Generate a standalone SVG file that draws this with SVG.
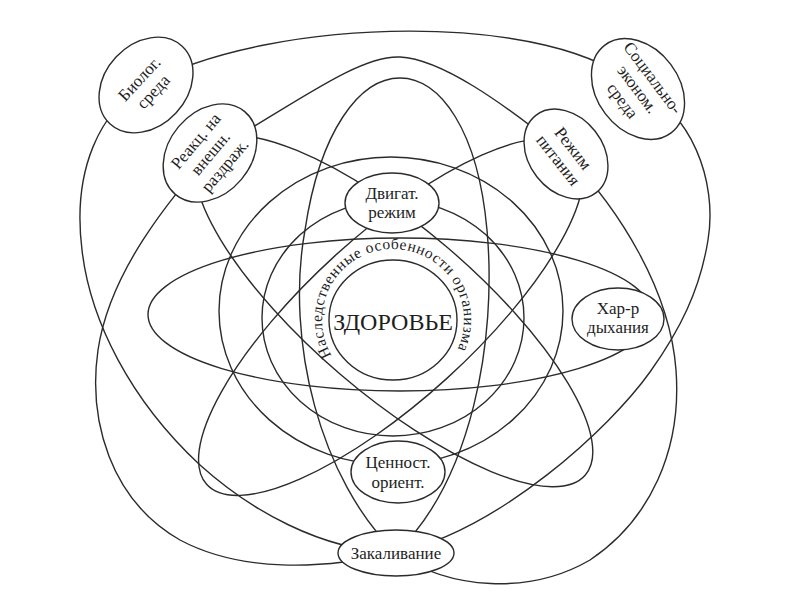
<svg xmlns="http://www.w3.org/2000/svg" width="800" height="600" viewBox="0 0 800 600" font-family="Liberation Serif, Tinos, DejaVu Serif, serif">
<defs>
<style>
.ln{fill:none;stroke:#2b2b2b;stroke-width:1.4}
.nd{fill:#fff;stroke:#2b2b2b;stroke-width:1.4}
.t{font-family:'Liberation Serif',Tinos,'DejaVu Serif',serif;font-size:17px;fill:#1e1e1e;text-anchor:middle}
.big{font-size:24px}
.ring{font-family:'Liberation Serif',Tinos,'DejaVu Serif',serif;font-size:15.5px;fill:#1e1e1e;letter-spacing:0.6px}
</style>
<path id="ringPath" d="M331.5,355.5 A71,71 0 1 1 454.5,355.5"/>
</defs>
<rect width="800" height="600" fill="#fff"/>
<g id="connectors">
<path class="ln" d="M146,85 C270,15 560,10 638,89 C690,110 718,180 708,240 C700,290 680,330 650,372 C610,428 500,530 396,553 C320,550 250,510 200,465 C130,400 90,320 82,250 C72,170 100,110 146,85 Z"/>
<path class="ln" d="M210,153 C300,100 360,55 400,57 C440,59 500,100 566,154 C620,210 670,290 676,370 C682,450 650,520 590,560 C530,595 450,590 396,553 C320,570 240,572 180,540 C110,500 88,420 98,350 C110,270 170,200 210,153 Z"/>
<path class="ln" d="M396,553 C320,480 285,340 305,230 C320,130 360,78 400,78 C440,78 478,130 487,230 C497,340 472,480 396,553 Z"/>
<ellipse class="ln" cx="400" cy="314.5" rx="252" ry="76.5"/>
<ellipse class="ln" cx="0" cy="0" rx="252" ry="83" transform="translate(394,311) rotate(40.6)"/>
<ellipse class="ln" cx="0" cy="0" rx="249" ry="83" transform="translate(391,317) rotate(-42.3)"/>
<ellipse class="ln" cx="393" cy="318" rx="131" ry="118"/>
<ellipse class="ln" cx="391" cy="311" rx="172" ry="154"/>
</g>
<g id="node-zdorovie">
<ellipse class="nd" cx="393" cy="320" rx="64" ry="60"/>
<text class="t big" x="393" y="330" font-family="Liberation Serif, serif">ЗДОРОВЬЕ</text>
<text class="ring" font-family="Liberation Serif, serif"><textPath href="#ringPath">Наследственные особенности организма</textPath></text>
</g>
<g id="node-biolog" transform="translate(146,85) rotate(-47)" font-family="Liberation Serif, serif">
<ellipse class="nd" rx="53" ry="41"/>
<text class="t" y="-3.5">Биолог.</text>
<text class="t" y="15.5">среда</text>
</g>
<g id="node-reakc" transform="translate(210,153) rotate(-50)" font-family="Liberation Serif, serif">
<ellipse class="nd" rx="54" ry="41"/>
<text class="t" y="-13">Реакц. на</text>
<text class="t" y="6">внешн.</text>
<text class="t" y="25">раздраж.</text>
</g>
<g id="node-social" transform="translate(638,89) rotate(53)" font-family="Liberation Serif, serif">
<ellipse class="nd" rx="55" ry="41"/>
<text class="t" y="-13">Социально-</text>
<text class="t" y="6">эконом.</text>
<text class="t" y="25">среда</text>
</g>
<g id="node-pitanie" transform="translate(566,154) rotate(52)" font-family="Liberation Serif, serif">
<ellipse class="nd" rx="49" ry="37"/>
<text class="t" y="-3.5">Режим</text>
<text class="t" y="15.5">питания</text>
</g>
<g id="node-dvigat" font-family="Liberation Serif, serif">
<ellipse class="nd" cx="392" cy="203" rx="47" ry="30"/>
<text class="t" x="392" y="199">Двигат.</text>
<text class="t" x="392" y="218">режим</text>
</g>
<g id="node-dyhanie" font-family="Liberation Serif, serif">
<ellipse class="nd" cx="618" cy="319" rx="46" ry="31"/>
<text class="t" x="618" y="314">Хар-р</text>
<text class="t" x="618" y="333">дыхания</text>
</g>
<g id="node-cennost" font-family="Liberation Serif, serif">
<ellipse class="nd" cx="398" cy="472" rx="47" ry="31"/>
<text class="t" x="398" y="468">Ценност.</text>
<text class="t" x="398" y="488">ориент.</text>
</g>
<g id="node-zakal" font-family="Liberation Serif, serif">
<ellipse class="nd" cx="396" cy="553" rx="58" ry="23"/>
<text class="t" x="396" y="559">Закаливание</text>
</g>
</svg>
